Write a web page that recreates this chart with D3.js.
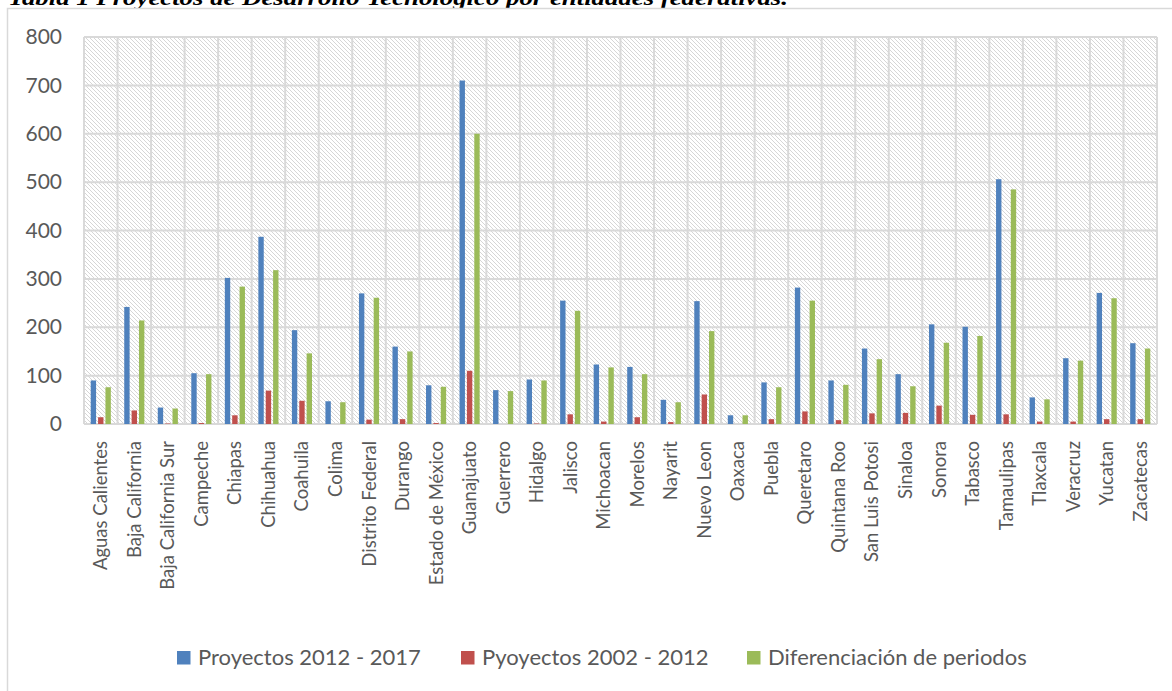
<!DOCTYPE html>
<html>
<head>
<meta charset="utf-8">
<script src="https://cdn.jsdelivr.net/npm/d3@7"></script>
<style>
  html, body { margin: 0; padding: 0; background: #fff; }
  svg { display: block; }
</style>
</head>
<body>
<svg id="chart" width="1172" height="691"></svg>
<script>
const categories = ["Aguas Calientes","Baja California","Baja California Sur","Campeche","Chiapas","Chihuahua","Coahuila","Colima","Distrito Federal","Durango","Estado de México","Guanajuato","Guerrero","Hidalgo","Jalisco","Michoacan","Morelos","Nayarit","Nuevo Leon","Oaxaca","Puebla","Queretaro","Quintana Roo","San Luis Potosi","Sinaloa","Sonora","Tabasco","Tamaulipas","Tlaxcala","Veracruz","Yucatan","Zacatecas"];
const proyectos2012_2017 = [90,242,34,105,302,387,194,47,270,160,80,710,70,92,255,123,118,50,254,18,86,282,90,156,103,206,201,506,55,136,271,167];
const pyoyectos2002_2012 = [14,28,1,2,18,69,48,0,9,10,2,110,0,1,20,5,14,4,61,0,10,26,8,22,23,38,19,20,5,5,10,10];
const diferenciacion = [76,214,32,103,284,318,146,45,261,150,77,600,68,90,234,117,103,45,192,18,76,255,81,134,78,168,182,485,51,131,260,156];
const seriesNames = ["Proyectos 2012 - 2017","Pyoyectos 2002 - 2012","Diferenciación de periodos"];
const seriesColors = ["#4f81bd","#c0504d","#9bbb59"];
const yTicks = [0,100,200,300,400,500,600,700,800];
const title = "Tabla 1 Proyectos de Desarrollo Tecnológico por entidades federativas.";

const seriesValues = [proyectos2012_2017, pyoyectos2002_2012, diferenciacion];
const svg = d3.select("#chart");
const plot = {left: 84, right: 1157, top: 37, bottom: 424};
const textColor = "#595959";
const font = "Lato, 'Open Sans', sans-serif";

// title (cut off at the top edge, as in the source)
svg.append("text")
  .attr("x", 8).attr("y", 4.5)
  .attr("font-family", "'Liberation Serif', 'DejaVu Serif', serif")
  .attr("font-weight", "bold").attr("font-style", "italic")
  .attr("font-size", 21)
  .attr("textLength", 780).attr("lengthAdjust", "spacingAndGlyphs")
  .attr("fill", "#000")
  .text(title);

// chart area border
svg.append("rect")
  .attr("x", 7.5).attr("y", 8.5).attr("width", 1200).attr("height", 700)
  .attr("fill", "#fff").attr("stroke", "#d9d9d9").attr("stroke-width", 1.5);

// hatch pattern
const defs = svg.append("defs");
const pat = defs.append("pattern").attr("id", "hatch")
  .attr("patternUnits", "userSpaceOnUse").attr("width", 4).attr("height", 4);
pat.append("rect").attr("width", 4).attr("height", 4).attr("fill", "#fff");
[0,1,2,3].forEach(i => {
  pat.append("rect").attr("x", i).attr("y", i).attr("width", 1).attr("height", 1).attr("fill", "#d6d6d6");
});

const x0 = d3.scaleBand().domain(categories).range([plot.left, plot.right]).paddingInner(0).paddingOuter(0);
const bw = x0.bandwidth();
const x1 = d3.scaleBand().domain(seriesNames).range([bw * 0.2, bw * 0.8]).paddingInner(0.27).paddingOuter(0);
const y = d3.scaleLinear().domain([0, 800]).range([plot.bottom, plot.top]);

// plot background
svg.append("rect")
  .attr("x", plot.left).attr("y", plot.top)
  .attr("width", plot.right - plot.left).attr("height", plot.bottom - plot.top)
  .attr("fill", "url(#hatch)");

// gridlines
const grid = svg.append("g").attr("stroke", "#d9d9d9").attr("stroke-width", 2);
grid.selectAll("line.h").data(yTicks).join("line")
  .attr("x1", plot.left).attr("x2", plot.right)
  .attr("y1", d => y(d)).attr("y2", d => y(d));
const vEdges = categories.map(c => x0(c)).concat([plot.right]);
grid.selectAll("line.v").data(vEdges).join("line")
  .attr("x1", d => d).attr("x2", d => d)
  .attr("y1", plot.top).attr("y2", plot.bottom);

// bars
const groups = svg.append("g").selectAll("g").data(categories).join("g")
  .attr("transform", c => `translate(${x0(c)},0)`);
groups.selectAll("rect").data((c, i) => seriesNames.map((s, k) => ({s, k, v: seriesValues[k][i]})))
  .join("rect")
  .attr("x", d => x1(d.s))
  .attr("width", x1.bandwidth())
  .attr("y", d => y(d.v))
  .attr("height", d => y(0) - y(d.v))
  .attr("fill", d => seriesColors[d.k]);

// y axis labels
const yAxis = d3.axisLeft(y).tickValues(yTicks).tickSize(0).tickPadding(22);
const yg = svg.append("g").attr("transform", `translate(${plot.left},0)`).call(yAxis);
yg.select(".domain").remove();
yg.selectAll("text").attr("font-family", font).attr("font-size", 21).attr("fill", textColor);

// x axis labels
const xAxis = d3.axisBottom(x0).tickSize(0).tickPadding(0);
const xg = svg.append("g").attr("transform", `translate(0,${plot.bottom})`).call(xAxis);
xg.select(".domain").remove();
xg.selectAll("text")
  .attr("font-family", font).attr("font-size", 18.5).attr("fill", textColor)
  .attr("text-anchor", "end")
  .attr("transform", "rotate(-90)")
  .attr("x", -17).attr("y", 0).attr("dy", "0.35em");

// legend
const legendX = [177, 461, 747];
const lg = svg.append("g");
seriesNames.forEach((s, k) => {
  lg.append("rect").attr("x", legendX[k]).attr("y", 651).attr("width", 13.5).attr("height", 13.5).attr("fill", seriesColors[k]);
  lg.append("text").attr("x", legendX[k] + 21).attr("y", 665)
    .attr("font-family", font).attr("font-size", 22).attr("fill", textColor).text(s);
});
</script>
</body>
</html>
